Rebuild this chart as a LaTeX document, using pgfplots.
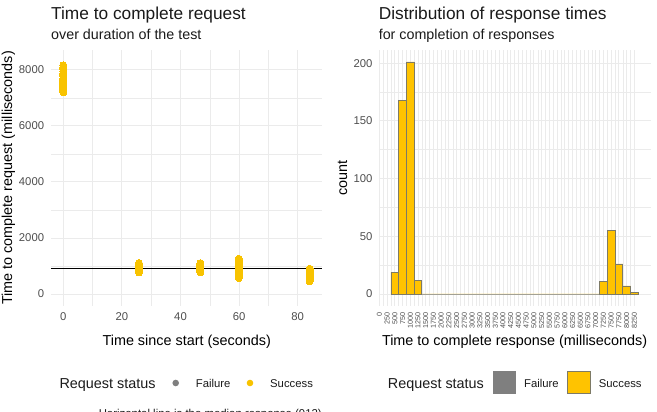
\documentclass[border=0pt]{standalone}
\usepackage{pgfplots}
\pgfplotsset{compat=1.18}
\usepackage{fontspec}
\setmainfont{Liberation Sans}
\definecolor{gold}{HTML}{FFC300}
\definecolor{ptgold}{HTML}{F8C300}
\definecolor{failgray}{HTML}{7F7F7F}
\definecolor{gridc}{HTML}{EBEBEB}
\definecolor{ticktext}{HTML}{4D4D4D}
\definecolor{txt}{HTML}{1A1A1A}
\definecolor{barline}{HTML}{7D7A66}
\pgfplotsset{
  mystyle/.style={
    scale only axis, anchor=south west,
    axis line style={draw=none},
    major tick length=0pt, minor tick length=0pt,
    grid=both,
    major grid style={gridc, line width=0.9bp},
    minor grid style={gridc, line width=0.45bp},
    tick label style={font=\fontsize{11.3bp}{13bp}\selectfont, text=ticktext},
    /pgf/number format/assume math mode=true,
    scaled ticks=false, /pgf/number format/1000 sep={},
    yticklabel style={anchor=east, inner sep=0pt},
    xticklabel style={anchor=north, inner sep=0pt},
  }
}
\begin{document}
\begin{tikzpicture}
\useasboundingbox (0,0) rectangle (657bp,412bp);
% ---------- left panel ----------
\begin{axis}[mystyle, at={(51bp,106.4bp)}, width=271.3bp, height=255.2bp,
  xmin=-4.21, xmax=88.41, ymin=-414, ymax=8694,
  xtick={0,20,40,60,80}, ytick={0,2000,4000,6000,8000}, minor tick num=1,
  yticklabel shift=6.7bp, xticklabel shift=6.9bp]
\addplot[only marks, mark=*, mark size=3.5bp, color=ptgold, mark options={fill=ptgold, draw=ptgold, line width=0pt}] coordinates {
(0,7200)(0,7230)(0,7260)(0,7290)(0,7320)(0,7350)(0,7380)(0,7400)(0,7420)(0,7440)
(0,7460)(0,7480)(0,7500)(0,7520)(0,7550)(0,7580)(0,7610)(0,7650)(0,7700)(0,7760)
(0,7820)(0,7880)(0,7950)(0,8030)(0,8100)(0,8160)
(25.8,770)(25.8,800)(25.8,830)(25.8,860)(25.8,890)(25.8,910)(25.8,930)(25.8,950)
(25.8,970)(25.8,990)(25.8,1010)(25.8,1040)(25.8,1070)(25.8,1106)
(46.8,775)(46.8,805)(46.8,840)(46.8,870)(46.8,900)(46.8,920)(46.8,940)(46.8,960)
(46.8,985)(46.8,1010)(46.8,1040)(46.8,1070)(46.8,1100)
(59.9,566)(59.9,610)(59.9,650)(59.9,690)(59.9,730)(59.9,770)(59.9,810)(59.9,850)
(59.9,890)(59.9,930)(59.9,970)(59.9,1010)(59.9,1050)(59.9,1090)(59.9,1130)(59.9,1170)
(59.9,1215)(59.9,1260)
(84.1,448)(84.1,490)(84.1,530)(84.1,570)(84.1,610)(84.1,650)(84.1,690)(84.1,730)
(84.1,770)(84.1,810)(84.1,850)(84.1,903)
};
\addplot[black, line width=1.2bp] coordinates {(-4.21,912) (88.41,912)};
\end{axis}
% ---------- right panel ----------
\begin{axis}[mystyle, at={(378.6bp,106.4bp)}, width=272bp, height=255.2bp,
  xmin=-25, xmax=8775, ymin=-10.05, ymax=211.05,
  xtick={0,250,...,8250}, ytick={0,50,100,150,200}, minor tick num=1,
  xticklabel style={font=\fontsize{7.2bp}{8bp}\selectfont, rotate=90, anchor=east, inner sep=0pt},
  yticklabel shift=5.9bp, xticklabel shift=6.4bp]
\addplot[ybar interval, fill=gold, draw=barline, line width=0.8bp] coordinates {
(375,19)(625,168)(875,201)(1125,12)
(1375,0)(1625,0)(1875,0)(2125,0)(2375,0)(2625,0)(2875,0)(3125,0)(3375,0)(3625,0)
(3875,0)(4125,0)(4375,0)(4625,0)(4875,0)(5125,0)(5375,0)(5625,0)(5875,0)(6125,0)
(6375,0)(6625,0)(6875,0)
(7125,11)(7375,55)(7625,26)(7875,7)(8125,1)(8375,1)
};
\end{axis}
% ---------- titles ----------
\node[anchor=base west, inner sep=0pt, text=txt, font=\fontsize{17.3bp}{20bp}\selectfont] at (51bp,392.7bp) {Time to complete request};
\node[anchor=base west, inner sep=0pt, text=txt, font=\fontsize{14.3bp}{17bp}\selectfont] at (51bp,372.5bp) {over duration of the test};
\node[anchor=base west, inner sep=0pt, text=txt, font=\fontsize{17.3bp}{20bp}\selectfont] at (378.6bp,392.7bp) {Distribution of response times};
\node[anchor=base west, inner sep=0pt, text=txt, font=\fontsize{14.3bp}{17bp}\selectfont] at (378.6bp,372.5bp) {for completion of responses};
% ---------- axis titles ----------
\node[anchor=base, rotate=90, inner sep=0pt, text=black, font=\fontsize{14.4bp}{17bp}\selectfont] at (12bp,234bp) {Time to complete request (milliseconds)};
\node[anchor=base, rotate=90, inner sep=0pt, text=black, font=\fontsize{14.4bp}{17bp}\selectfont] at (347bp,234bp) {count};
\node[anchor=base, inner sep=0pt, text=black, font=\fontsize{14.4bp}{17bp}\selectfont] at (186.7bp,66.5bp) {Time since start (seconds)};
\node[anchor=base, inner sep=0pt, text=black, font=\fontsize{14.4bp}{17bp}\selectfont] at (514.6bp,66.5bp) {Time to complete response (milliseconds)};
% ---------- legends ----------
\node[anchor=base west, inner sep=0pt, text=txt, font=\fontsize{14.4bp}{17bp}\selectfont] at (59.3bp,23.5bp) {Request status};
\node[circle, fill=failgray, inner sep=0pt, minimum size=6.6bp] at (175.7bp,29bp) {};
\node[circle, fill=ptgold, inner sep=0pt, minimum size=6.6bp] at (250bp,29bp) {};
\node[anchor=base west, inner sep=0pt, text=txt, font=\fontsize{11.3bp}{13bp}\selectfont] at (195.7bp,24.7bp) {Failure};
\node[anchor=base west, inner sep=0pt, text=txt, font=\fontsize{11.3bp}{13bp}\selectfont] at (270bp,24.7bp) {Success};
\node[anchor=base west, inner sep=0pt, text=txt, font=\fontsize{14.4bp}{17bp}\selectfont] at (387.7bp,23.5bp) {Request status};
\node[draw=failgray, fill=failgray, line width=0.8bp, inner sep=0pt, minimum width=22.6bp, minimum height=21.8bp, anchor=south west] at (492.7bp,18.1bp) {};
\node[draw=barline, fill=gold, line width=0.8bp, inner sep=0pt, minimum width=22.6bp, minimum height=21.8bp, anchor=south west] at (567.1bp,18.1bp) {};
\node[anchor=base west, inner sep=0pt, text=txt, font=\fontsize{11.3bp}{13bp}\selectfont] at (524bp,24.7bp) {Failure};
\node[anchor=base west, inner sep=0pt, text=txt, font=\fontsize{11.3bp}{13bp}\selectfont] at (598.7bp,24.7bp) {Success};
% ---------- caption (cut by the page edge, as in the reference) ----------
\node[anchor=base east, inner sep=0pt, text=txt, font=\fontsize{11.4bp}{13bp}\selectfont] at (322bp,-5bp) {Horizontal line is the median response (912)};
\end{tikzpicture}
\end{document}
